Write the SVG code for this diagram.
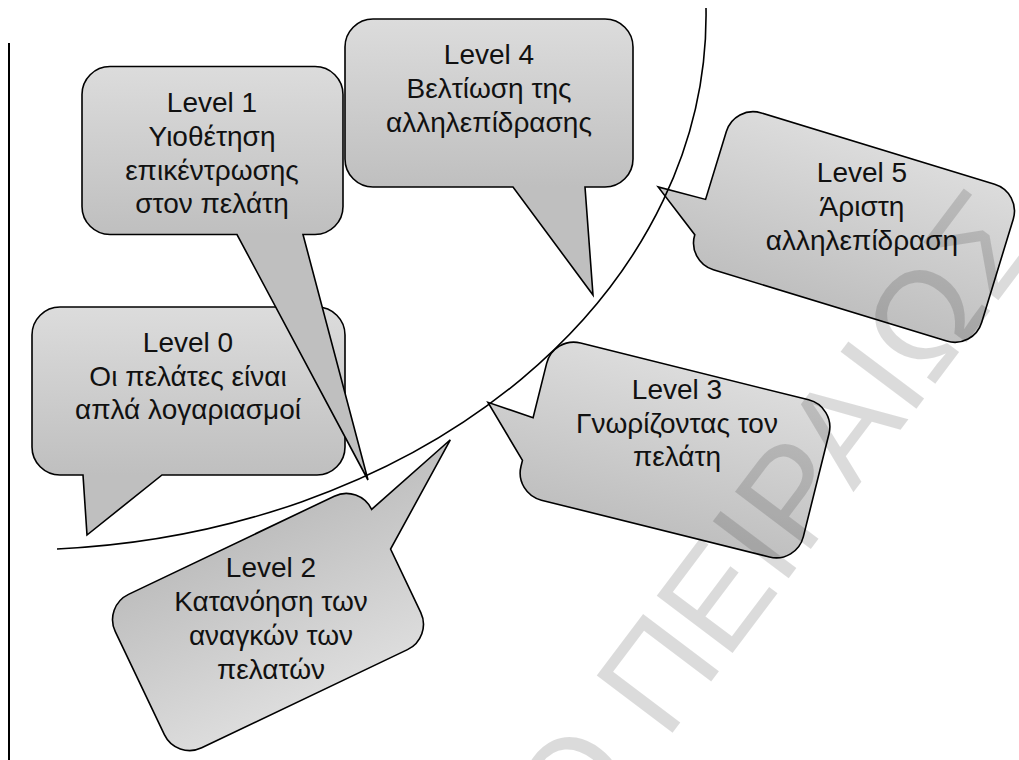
<svg xmlns="http://www.w3.org/2000/svg" width="1019" height="760" viewBox="0 0 1019 760">
  <defs>
    <!-- shared body shading; each callout is drawn in local coordinates centred on its body -->
    <linearGradient id="bubbleFill" gradientUnits="userSpaceOnUse" x1="0" y1="-84" x2="0" y2="84">
      <stop offset="0" stop-color="#dcdcdc"/>
      <stop offset="1" stop-color="#bfbfbf"/>
    </linearGradient>
  </defs>
  <style>
    .bubble { fill: url(#bubbleFill); stroke: #000; stroke-width: 1.6; stroke-linejoin: miter; }
    .label { font-family: "Liberation Sans", Arial, sans-serif; font-size: 28px; fill: #111; text-anchor: middle; }
    .rule { stroke: #000; stroke-width: 2; fill: none; }
    .arc { stroke: #000; stroke-width: 1.6; fill: none; }
    .mark { font-family: "Liberation Sans", Arial, sans-serif; font-size: 138px; fill: #000; fill-opacity: 0.14; }
  </style>

  <rect width="1019" height="760" fill="#fff"/>

  <!-- margin rule -->
  <line class="rule" x1="9" y1="43" x2="9" y2="760"/>

  <g id="level0">
    <path class="bubble" transform="translate(188.5,391)"
      d="M -128.5 -84 H 128.5 A 28 28 0 0 1 156.5 -56 V 56 A 28 28 0 0 1 128.5 84 H -26.5 L -101.5 144 L -105.5 84 H -128.5 A 28 28 0 0 1 -156.5 56 V -56 A 28 28 0 0 1 -128.5 -84 Z"/>
    <text class="label" x="188" y="352">Level 0</text>
    <text class="label" x="188" y="385.5">Οι πελάτες είναι</text>
    <text class="label" x="188" y="419">απλά λογαριασμοί</text>
  </g>

  <g id="level1">
    <path class="bubble" transform="translate(212.5,150.5)"
      d="M -102.5 -84 H 102.5 A 28 28 0 0 1 130.5 -56 V 56 A 28 28 0 0 1 102.5 84 H 90.5 L 155.5 329.5 L 24.5 84 H -102.5 A 28 28 0 0 1 -130.5 56 V -56 A 28 28 0 0 1 -102.5 -84 Z"/>
    <text class="label" x="212" y="112">Level 1</text>
    <text class="label" x="212" y="146">Υιοθέτηση</text>
    <text class="label" x="212" y="180">επικέντρωσης</text>
    <text class="label" x="212" y="213">στον πελάτη</text>
  </g>

  <g id="level4">
    <path class="bubble" transform="translate(489,103)"
      d="M -116 -84 H 116 A 28 28 0 0 1 144 -56 V 56 A 28 28 0 0 1 116 84 H 96 L 104 192 L 24 84 H -116 A 28 28 0 0 1 -144 56 V -56 A 28 28 0 0 1 -116 -84 Z"/>
    <text class="label" x="489" y="64">Level 4</text>
    <text class="label" x="489" y="98">Βελτίωση της</text>
    <text class="label" x="489" y="132">αλληλεπίδρασης</text>
  </g>

  <g id="level5">
    <path class="bubble" transform="translate(854,227) rotate(17)"
      d="M -122 -82 H 122 A 28 28 0 0 1 150 -54 V 54 A 28 28 0 0 1 122 82 H -122 A 28 28 0 0 1 -150 54 L -199 19 L -150 17 V -54 A 28 28 0 0 1 -122 -82 Z"/>
    <text class="label" x="862" y="182">Level 5</text>
    <text class="label" x="862" y="216">Άριστη</text>
    <text class="label" x="862" y="250">αλληλεπίδραση</text>
  </g>

  <g id="level3">
    <path class="bubble" transform="translate(675,450) rotate(14)"
      d="M -117.5 -81 H 117.5 A 28 28 0 0 1 145.5 -53 V 53 A 28 28 0 0 1 117.5 81 H -117.5 A 28 28 0 0 1 -145.5 53 V 47 L -193 -1 L -145.5 3 V -53 A 28 28 0 0 1 -117.5 -81 Z"/>
    <text class="label" x="677" y="399">Level 3</text>
    <text class="label" x="677" y="433">Γνωρίζοντας τον</text>
    <text class="label" x="677" y="466">πελάτη</text>
  </g>

  <g id="level2">
    <path class="bubble" transform="translate(268,622) rotate(-25.5) scale(1,-1)"
      d="M -114 -85 H 114 A 28 28 0 0 1 142 -57 V 13 L 243 86 L 142 57 A 28 28 0 0 1 114 85 H -114 A 28 28 0 0 1 -142 57 V -57 A 28 28 0 0 1 -114 -85 Z"/>
    <text class="label" x="271" y="577">Level 2</text>
    <text class="label" x="271" y="611">Κατανόηση των</text>
    <text class="label" x="271" y="645">αναγκών των</text>
    <text class="label" x="271" y="679">πελατών</text>
  </g>

  <!-- progression curve through the callout tips -->
  <g id="arc">
    <path class="arc" d="M 57 549 A 691 535 0 0 0 706 8"/>
  </g>

  <!-- faint diagonal watermark -->
  <g id="watermark">
    <text class="mark" transform="translate(578,858) rotate(-53)">Ο ΠΕΙΡΑΙΩΣ</text>
  </g>
</svg>
